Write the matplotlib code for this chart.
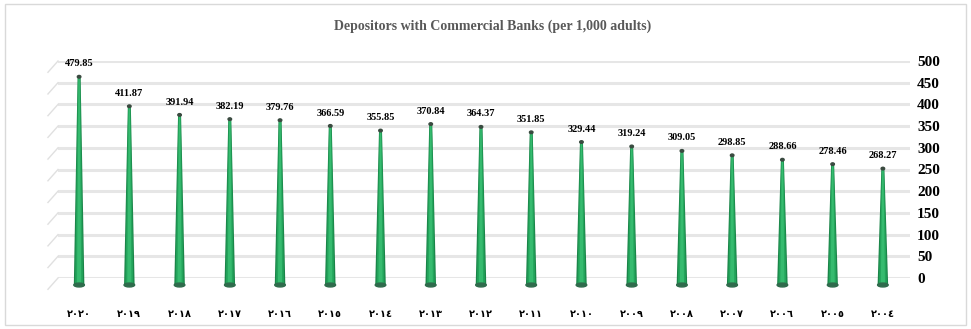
import matplotlib
matplotlib.use("Agg")
import matplotlib.pyplot as plt
import matplotlib.transforms as mtransforms
from matplotlib.patches import Ellipse, Rectangle
import numpy as np

years = ["٢٠٢٠", "٢٠١٩", "٢٠١٨", "٢٠١٧", "٢٠١٦", "٢٠١٥", "٢٠١٤", "٢٠١٣", "٢٠١٢",
         "٢٠١١", "٢٠١٠", "٢٠٠٩", "٢٠٠٨", "٢٠٠٧", "٢٠٠٦", "٢٠٠٥", "٢٠٠٤"]
depositors = [479.85, 411.87, 391.94, 382.19, 379.76, 366.59, 355.85, 370.84, 364.37,
              351.85, 329.44, 319.24, 309.05, 298.85, 288.66, 278.46, 268.27]
y_ticks = [0, 50, 100, 150, 200, 250, 300, 350, 400, 450, 500]

W, H = 971, 329
fig = plt.figure(figsize=(W / 100, H / 100), dpi=100)
fig.patch.set_facecolor("white")
fig.add_artist(Rectangle((5 / W, 4 / H), 961 / W, 321 / H, transform=fig.transFigure,
                         fill=False, edgecolor="#d9d9d9", lw=1))

ax = fig.add_axes([58 / W, (H - 278) / H, (910 - 58) / W, 217 / H])
x = np.arange(len(years))
ax.set_xlim(-0.42, 16.54)
ax.set_ylim(0, 500)
for s in ax.spines.values():
    s.set_visible(False)

# back wall grid
for t in y_ticks:
    ax.axhline(t, color="#e6e6e6", lw=2.2, zorder=1)
    ax.plot([-0.42 - 0.2, -0.42], [t - 26, t], color="#e0e0e0", lw=1, clip_on=False, zorder=1)

ax.yaxis.tick_right()
ax.set_yticks(y_ticks)
ax.set_yticklabels([str(t) for t in y_ticks], fontfamily="Liberation Serif",
                   fontweight="bold", fontsize=11)
ax.tick_params(axis="y", length=0, pad=5)
ax.set_xticks(x)
ax.set_xticklabels(years, fontfamily=["DejaVu Sans"], fontweight="bold", fontsize=7)
ax.tick_params(axis="x", length=0, pad=22)

# cones sit slightly in front of the wall
front = ax.transData + mtransforms.ScaledTranslation(0, -0.07, fig.dpi_scale_trans)
layers = [(1.0, "#1b8549"), (0.75, "#23a45b"), (0.4, "#36bb6f")]
for xi, v in zip(x, depositors):
    for frac, col in layers:
        hb, ht = 0.105 * frac, 0.03 * frac
        ax.fill([xi - hb, xi - ht, xi + ht, xi + hb], [0, v, v, 0], color=col,
                lw=0, transform=front, zorder=3, clip_on=False)
    ax.add_patch(Ellipse((xi, 0), 0.21, 9, color="#2f6b4c", transform=front,
                         zorder=4, clip_on=False))
    ax.add_patch(Ellipse((xi, v), 0.07, 6, color="#3a4a40", transform=front,
                         zorder=4, clip_on=False))
    ax.annotate(f"{v:.2f}", (xi, v), xytext=(0, 1), textcoords="offset points",
                ha="center", va="bottom", fontfamily="Liberation Serif",
                fontweight="bold", fontsize=7.5, zorder=5)

fig.text(493 / W, 1 - 26 / H, "Depositors with Commercial Banks (per 1,000 adults)",
         ha="center", va="center", fontfamily="Liberation Serif", fontweight="bold",
         fontsize=10, color="#595959")

fig.savefig("out.png", dpi=100, facecolor="white")
